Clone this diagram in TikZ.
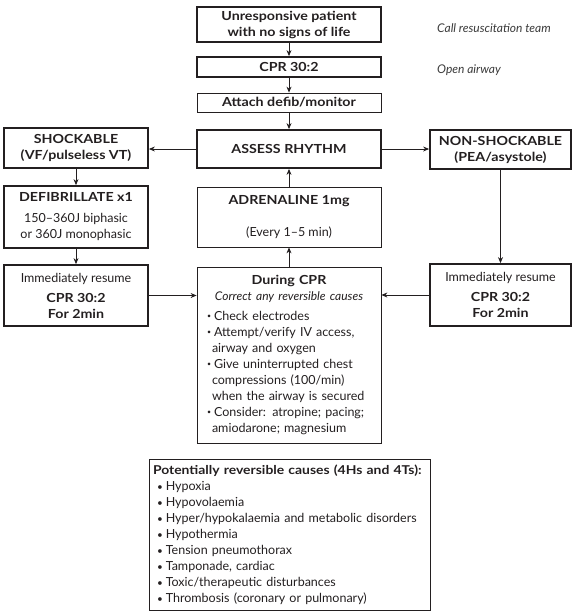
\documentclass[tikz,border=0pt]{standalone}
\usepackage{fontspec}
\setmainfont{Lato}[BoldFeatures={FakeStretch=1.14}]
\usetikzlibrary{arrows.meta}
\definecolor{ink}{HTML}{231F20}
\definecolor{notegray}{HTML}{3A3A3A}
\newcommand\sbul{\raisebox{1.6pt}{\fontsize{7}{7}\selectfont •}\hspace{3pt}}
\newcommand\bbul{\hspace*{4pt}{\fontsize{10}{10}\selectfont •}\hspace{3pt}}
\begin{document}
\begin{tikzpicture}[x=1pt,y=-1pt,
  font=\fontsize{12.5}{16}\selectfont, text=ink,
  box/.style={draw=ink, rectangle, align=center, inner sep=0pt},
  heavy/.style={box, line width=1.8pt},
  light/.style={box, line width=0.8pt},
  mid/.style={box, line width=1.2pt},
  arr/.style={draw=ink, line width=0.8pt, -{Stealth[length=6pt,width=5pt]}},
  notetext/.style={font=\fontsize{12}{16}\selectfont\itshape, text=notegray, anchor=west, inner sep=0pt},
]
\useasboundingbox (0,0) rectangle (573,611);

% main column
\node[mid, minimum width=184pt, minimum height=35pt] (unresp) at (289,24.5)
  {\bfseries Unresponsive patient\\\bfseries with no signs of life};
\node[heavy, minimum width=184pt, minimum height=20pt] (cpr) at (289,67)
  {\bfseries CPR 30:2};
\node[light, minimum width=184pt, minimum height=19pt] (attach) at (289,102.5)
  {\bfseries Attach defib/monitor};
\node[heavy, minimum width=184pt, minimum height=38pt] (assess) at (289,149)
  {\bfseries ASSESS RHYTHM};
\node[light, minimum width=184pt, minimum height=60pt] (adren) at (289,217)
  {\bfseries ADRENALINE 1mg\\[16pt](Every 1–5 min)};
\node[light, minimum width=184pt, minimum height=176pt, text width=164pt, align=left] (during) at (289,355)
  {\makebox[164pt]{\bfseries During CPR}\\
   \makebox[164pt]{\fontsize{12}{16}\selectfont\itshape Correct any reversible causes}\\[4pt]
   \sbul Check electrodes\\
   \sbul Attempt/verify IV access,\\
   \hspace*{5pt}airway and oxygen\\
   \sbul Give uninterrupted chest\\
   \hspace*{5pt}compressions (100/min)\\
   \hspace*{5pt}when the airway is secured\\
   \sbul Consider: atropine; pacing;\\
   \hspace*{5pt}amiodarone; magnesium};

% notes
\node[notetext] (callnote) at (437,28) {Call resuscitation team};
\node[notetext] (airwaynote) at (437,70) {Open airway};

% left column
\node[heavy, minimum width=144pt, minimum height=40pt] (shock) at (76,148)
  {\bfseries SHOCKABLE\\\bfseries (VF/pulseless VT)};
\node[heavy, minimum width=144pt, minimum height=62pt] (defib) at (76,217)
  {\bfseries DEFIBRILLATE x1\\[5pt]150–360J biphasic\\or 360J monophasic};
\node[heavy, minimum width=144pt, minimum height=61pt] (imml) at (76,295.5)
  {Immediately resume\\[4pt]\bfseries CPR 30:2\\\bfseries For 2min};

% right column
\node[heavy, minimum width=141pt, minimum height=39pt] (nonshock) at (500.5,149.5)
  {\bfseries NON-SHOCKABLE\\\bfseries (PEA/asystole)};
\node[heavy, minimum width=141pt, minimum height=62pt] (immr) at (500.5,295)
  {Immediately resume\\[4pt]\bfseries CPR 30:2\\\bfseries For 2min};

% causes
\node[light, minimum width=281pt, minimum height=151pt, text width=273pt, align=left] (causes) at (289.5,534.5)
  {{\fontsize{12.2}{16}\selectfont\bfseries Potentially reversible causes (4Hs and 4Ts):}\\
   \bbul Hypoxia\\
   \bbul Hypovolaemia\\
   \bbul Hyper/hypokalaemia and metabolic disorders\\
   \bbul Hypothermia\\
   \bbul Tension pneumothorax\\
   \bbul Tamponade, cardiac\\
   \bbul Toxic/therapeutic disturbances\\
   \bbul Thrombosis (coronary or pulmonary)};

% connectors
\draw[arr] (unresp) -- (cpr);
\draw[arr] (cpr) -- (attach);
\draw[arr] (attach) -- (assess);
\draw[arr] (assess.west) -- (assess.west -| shock.east);
\draw[arr] (assess.east) -- (assess.east -| nonshock.west);
\draw[arr] (shock) -- (defib);
\draw[arr] (defib) -- (imml);
\draw[arr] (imml.east) -- (imml.east -| during.west);
\draw[arr] (nonshock) -- (immr);
\draw[arr] (immr.west) -- (immr.west -| during.east);
\draw[arr] (during) -- (adren);
\draw[arr] (adren) -- (assess);
\end{tikzpicture}
\end{document}
